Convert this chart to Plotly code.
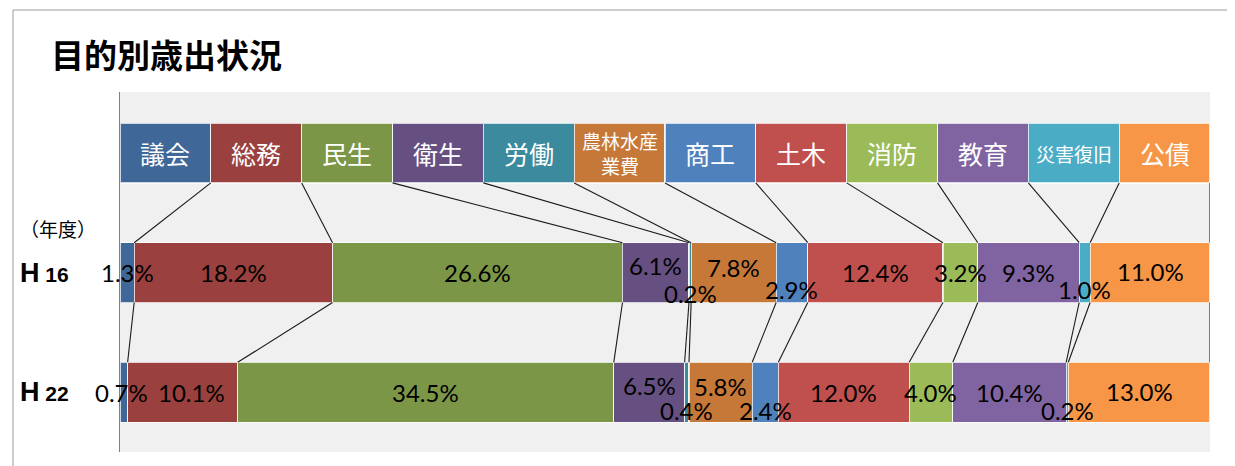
import plotly.graph_objects as go
import numpy as np

# ---- data ----
categories = ['議会', '総務', '民生', '衛生', '労働', '農林水産業費',
              '商工', '土木', '消防', '教育', '災害復旧', '公債']
header_labels = ['議会', '総務', '民生', '衛生', '労働', '農林水産<br>業費',
                 '商工', '土木', '消防', '教育', '災害復旧', '公債']
years = ['H 16', 'H 22']
h16 = [1.3, 18.2, 26.6, 6.1, 0.2, 7.8, 2.9, 12.4, 3.2, 9.3, 1.0, 11.0]
h22 = [0.7, 10.1, 34.5, 6.5, 0.4, 5.8, 2.4, 12.0, 4.0, 10.4, 0.2, 13.0]

# ---- styles ----
colors = ['#3F6797', '#9A403E', '#7C9647', '#665082', '#3C8A9E', '#C67838',
          '#4F81BD', '#C0504D', '#9BBB59', '#8064A2', '#4BACC6', '#F79646']
header_sizes = [25, 25, 25, 25, 25, 19, 25, 25, 25, 25, 19, 25]
# label nudges (px) to mimic the reference placement
shift16 = [0, 0, 0, 7, -21, 5, -17, 0, 0, 0, -17, 1]
shift22 = [0, 0, 0, 7, -18, 6, -18, 0, 0, 0, -18, 1]
xshift16 = [0, 0, 0, 0, 0, 0, 0, 0, 0, 0, 0, 0]
xshift22 = [-2, 9, 0, 0, 0, 0, 0, 0, 0, 0, 0, 0]

n = len(categories)
header_vals = [100.0 / n] * n
rows = [0, 1, 2]          # header row, H16, H22
half = 0.25               # half bar thickness (bar width 0.5)

OFF = 8                   # page body margin offset
W, H = 1235 - OFF, 466 - OFF
L, R, T, B = 120 - OFF, 25, 92 - OFF, 14
pw, ph = W - L - R, H - T - B


def px_x(p):
    return (p - OFF - L) / pw


def px_y(p):
    return (H - B - (p - OFF)) / ph


fig = go.Figure()

for i, c in enumerate(categories):
    fig.add_trace(go.Bar(
        y=rows, x=[header_vals[i], h16[i], h22[i]], orientation='h',
        name=c, width=0.5,
        marker=dict(color=colors[i], line=dict(color='rgba(255,255,255,0.75)', width=1.2)),
        hoverinfo='skip', showlegend=False))

# series lines between rows
c_head = np.cumsum(header_vals)
c16 = np.cumsum(h16)
c22 = np.cumsum(h22)
lx, ly = [], []
for k in range(1, n + 1):
    lx += [c_head[k - 1], c16[k - 1], None]
    ly += [rows[0] + half, rows[1] - half, None]
    lx += [c16[k - 1], c22[k - 1], None]
    ly += [rows[1] + half, rows[2] - half, None]
fig.add_trace(go.Scatter(x=lx, y=ly, mode='lines',
                         line=dict(color='#1a1a1a', width=1.1),
                         hoverinfo='skip', showlegend=False))

ann = []
# header labels
starts = np.concatenate([[0], c_head[:-1]])
for i, lab in enumerate(header_labels):
    ann.append(dict(x=starts[i] + header_vals[i] / 2, y=rows[0], text=lab,
                    showarrow=False, xanchor='center', yanchor='middle',
                    font=dict(family='Noto Sans CJK JP', size=header_sizes[i], color='white')))

# data labels
for vals, cum, row, sh, xs in [(h16, c16, rows[1], shift16, xshift16),
                               (h22, c22, rows[2], shift22, xshift22)]:
    for i, v in enumerate(vals):
        ann.append(dict(x=cum[i] - v / 2, y=row, text=f'{v:.1f}%', showarrow=False,
                        xanchor='center', yanchor='middle', yshift=sh[i], xshift=xs[i],
                        font=dict(family='Lato', size=24, color='black')))

# year labels
for yr, row in zip(years, rows[1:]):
    hpart, num = yr.split(' ')
    ann.append(dict(x=px_x(44), xref='paper', y=row, yref='y',
                    text=f'<b><span style="font-size:27px">{hpart}</span> {num}</b>',
                    showarrow=False, xanchor='center', yanchor='middle',
                    font=dict(family='Liberation Sans', size=21, color='black')))
ann.append(dict(x=px_x(58), xref='paper', y=px_y(228), yref='paper', text='（年度）',
                showarrow=False, xanchor='center', yanchor='middle',
                font=dict(family='Noto Sans CJK JP', size=19, color='black')))
# title
ann.append(dict(x=px_x(49), xref='paper', y=px_y(54), yref='paper', text='<b>目的別歳出状況</b>',
                showarrow=False, xanchor='left', yanchor='middle',
                font=dict(family='Noto Sans CJK JP', size=33, color='black')))

shapes = [
    dict(type='line', xref='paper', yref='paper', x0=px_x(13), x1=px_x(13),
         y0=px_y(10), y1=px_y(470), line=dict(color='#9a9a9a', width=1)),
    dict(type='line', xref='paper', yref='paper', x0=px_x(13), x1=px_x(1240),
         y0=px_y(10), y1=px_y(10), line=dict(color='#9a9a9a', width=1)),
]

fig.update_layout(
    width=W, height=H, barmode='stack', bargap=0.5,
    margin=dict(l=L, r=R, t=T, b=B),
    paper_bgcolor='white', plot_bgcolor='#F0F0F0',
    xaxis=dict(range=[0, 100], visible=False, fixedrange=True),
    yaxis=dict(range=[2.5, -0.51], showticklabels=False, showgrid=False, zeroline=False,
               showline=True, linecolor='#7f7f7f', linewidth=1, ticks=''),
    annotations=ann, shapes=shapes,
)

fig.write_html('out.html')
